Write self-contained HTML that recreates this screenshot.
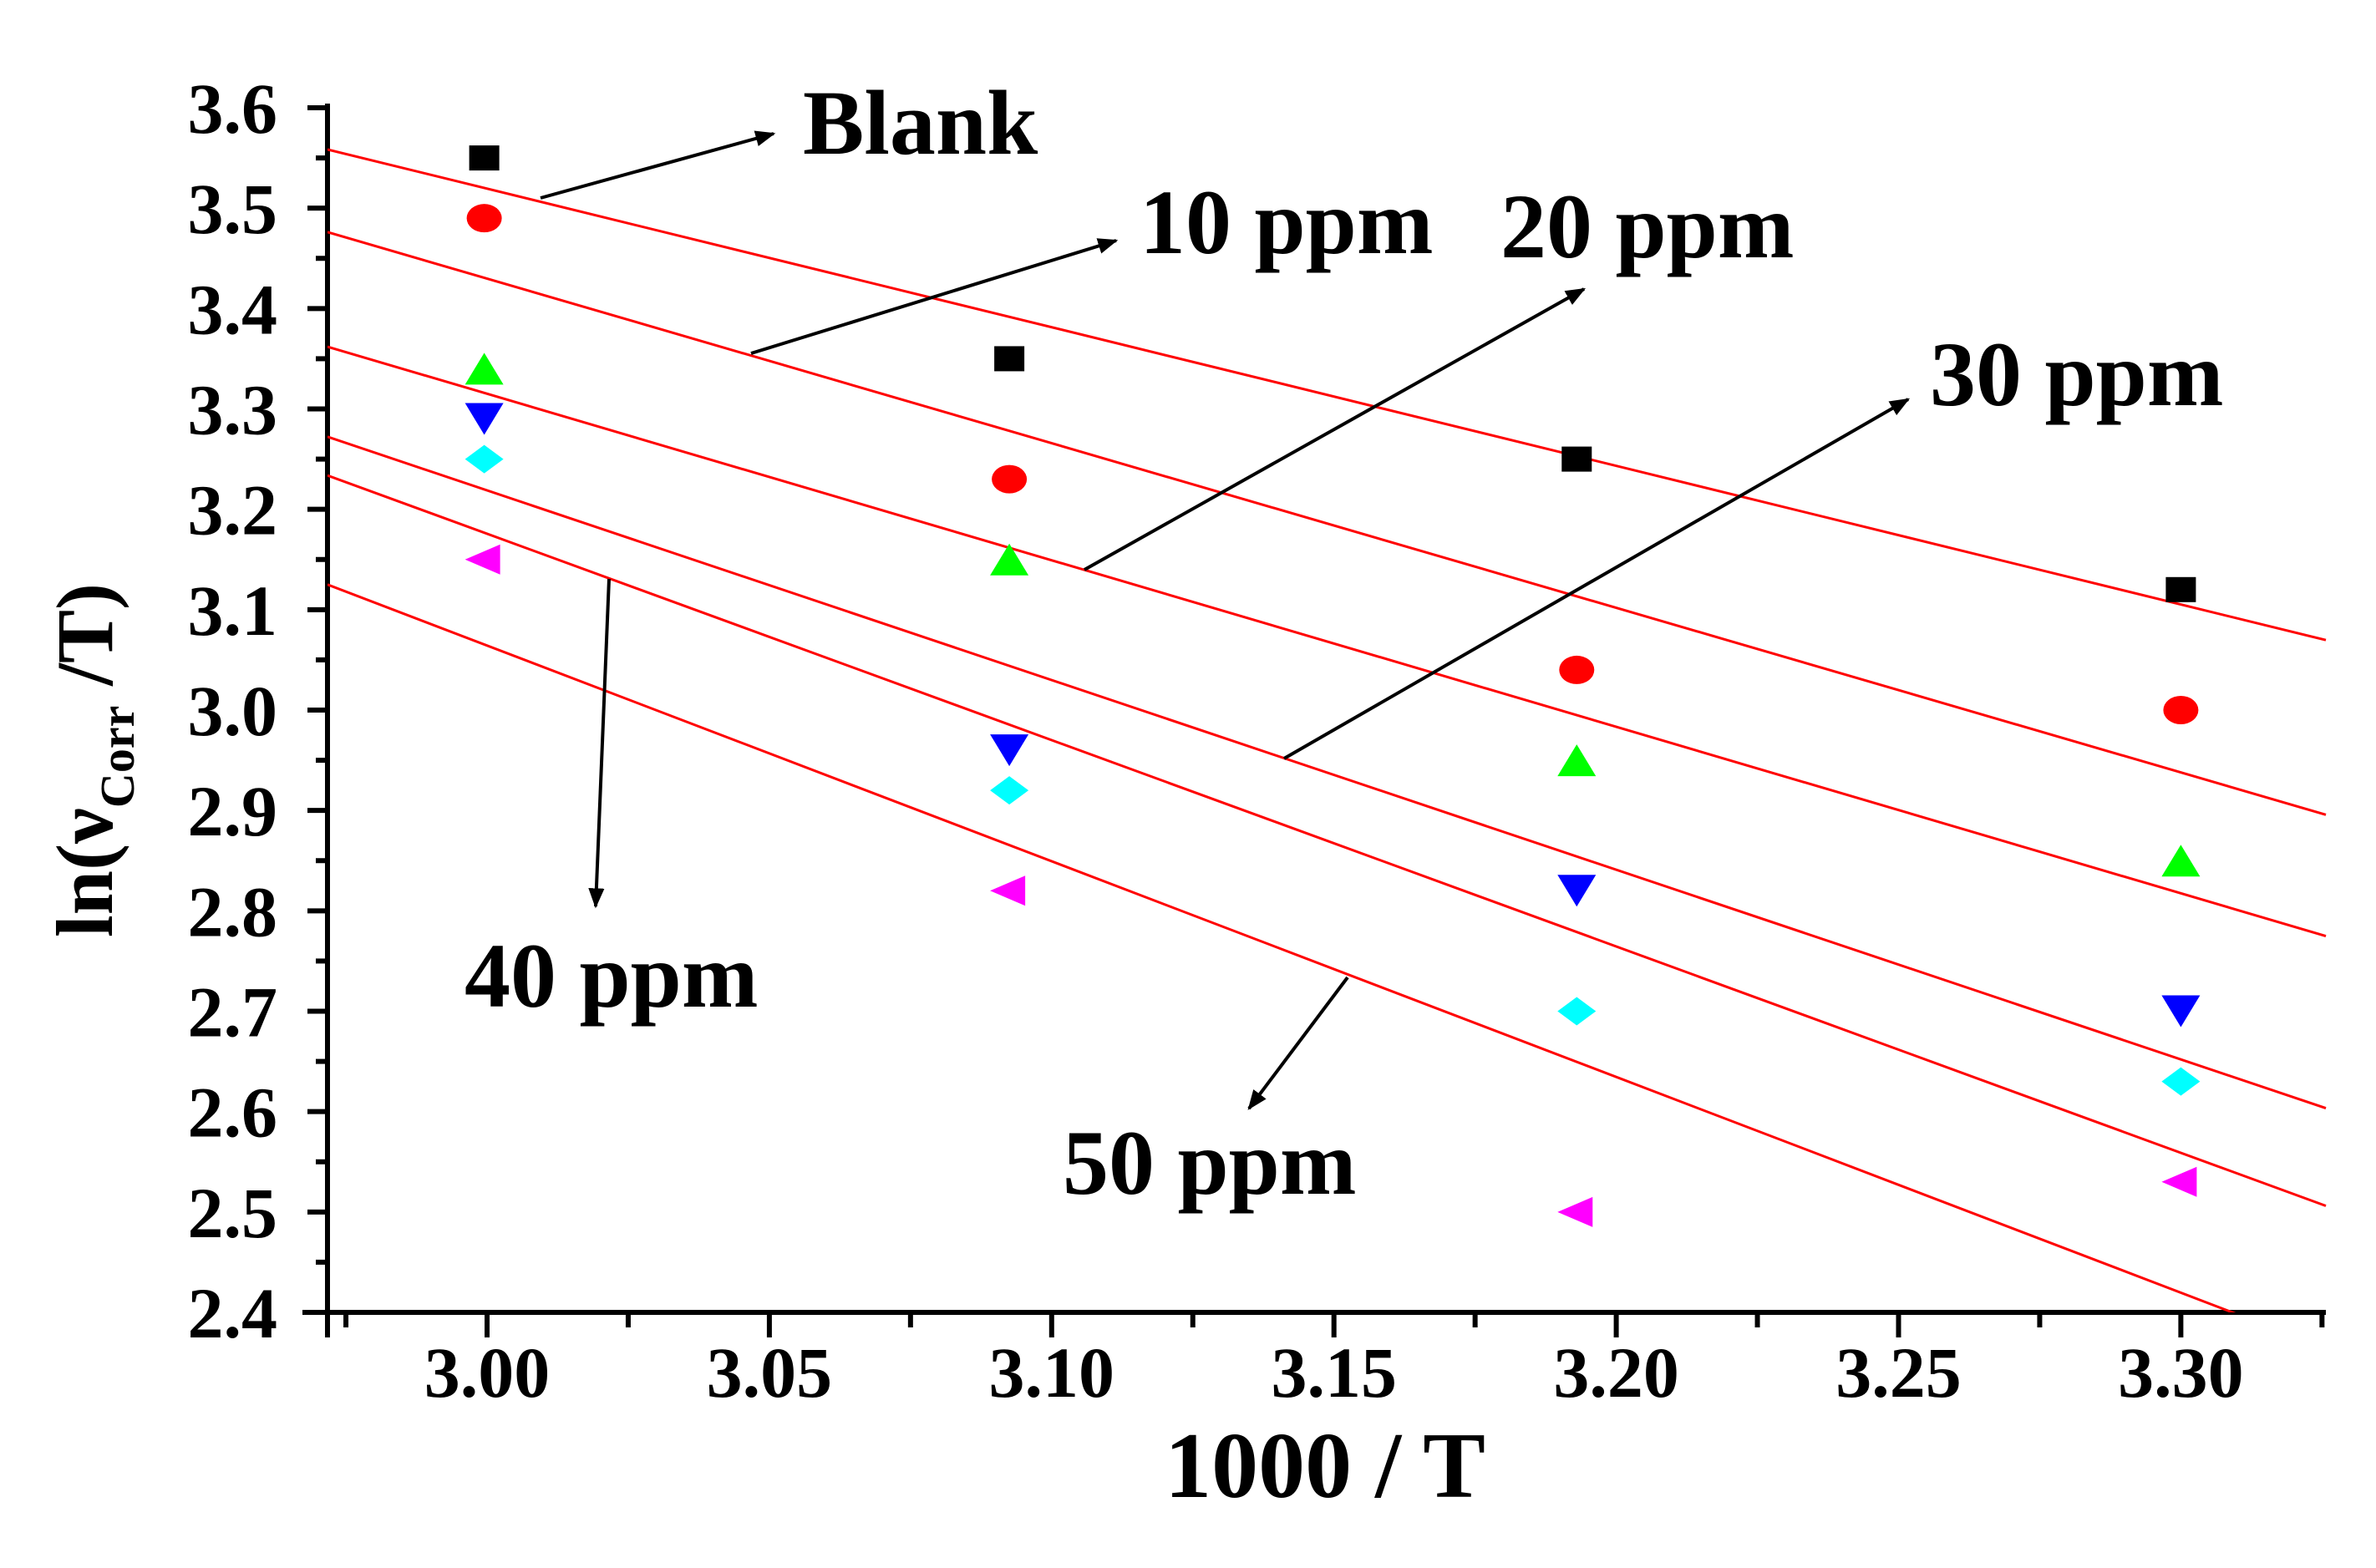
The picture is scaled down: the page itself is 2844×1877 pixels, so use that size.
<!DOCTYPE html>
<html><head><meta charset="utf-8"><style>html,body{margin:0;padding:0;background:#fff;overflow:hidden;width:2844px;height:1877px}svg{display:block}</style></head>
<body>
<svg id="chart" width="2844" height="1877" viewBox="0 0 2844 1877" xmlns="http://www.w3.org/2000/svg" font-family="'Liberation Serif', serif" font-weight="bold">
<defs>
<clipPath id="plotclip"><rect x="392" y="0" width="2400" height="1571"/></clipPath>
<marker id="ah" viewBox="0 0 10 10" refX="9" refY="5" markerWidth="6" markerHeight="6" orient="auto"><path d="M0,1 L10,5 L0,9 Z" fill="#000"/></marker>
</defs>
<g id="axes"></g>
<g id="lines" clip-path="url(#plotclip)"></g>
<g id="points"></g>
<g id="annots"></g>
<text x="1586" y="1792" font-size="112" text-anchor="middle">1000 / T</text>
<text transform="translate(134,910) rotate(-90)" font-size="96" text-anchor="middle">ln(ν<tspan font-size="58" dy="26">Corr</tspan><tspan dy="-26"> /T)</tspan></text>
</svg>
<script>
const xVals = [2.9995, 3.0925, 3.193, 3.300];
const seriesNames = ["Blank","10 ppm","20 ppm","30 ppm","40 ppm","50 ppm"];
const blank = [3.55, 3.35, 3.25, 3.12];
const ppm10 = [3.49, 3.23, 3.04, 3.00];
const ppm20 = [3.34, 3.15, 2.95, 2.85];
const ppm30 = [3.29, 2.96, 2.82, 2.70];
const ppm40 = [3.25, 2.92, 2.70, 2.63];
const ppm50 = [3.15, 2.82, 2.50, 2.53];
const yTicks = ["2.4","2.5","2.6","2.7","2.8","2.9","3.0","3.1","3.2","3.3","3.4","3.5","3.6"];
const xTicks = ["3.00","3.05","3.10","3.15","3.20","3.25","3.30"];

const NS="http://www.w3.org/2000/svg";
const X0=392,X1=2784,Y0=1571,Y1=129;
const PXU=6758;
const xMin=3.00-(583-392)/PXU, xMax=3.00+(2784-583)/PXU;
const yMin=2.4,yMax=3.6;
function sx(v){return 583+(v-3.00)*PXU;}
function sy(v){return Y0-(v-yMin)/(yMax-yMin)*(Y0-Y1);}
function mk(tag,attrs,parent){const e=document.createElementNS(NS,tag);for(const k in attrs)e.setAttribute(k,attrs[k]);parent.appendChild(e);return e;}

const axes=document.getElementById('axes');
let a=mk('line',{x1:X0,y1:Y1-5,x2:X0,y2:Y0+30,stroke:'#000','stroke-width':6},axes);


a=mk('line',{x1:X0-30,y1:Y0,x2:X1,y2:Y0,stroke:'#000','stroke-width':6},axes);


for(let i=0;i<yTicks.length;i++){
  const v=parseFloat(yTicks[i]),y=sy(v);
  mk('line',{x1:X0-24,y1:y,x2:X0,y2:y,stroke:'#000','stroke-width':6},axes);
  if(i<yTicks.length-1){const ym=sy(v+0.05);mk('line',{x1:X0-14,y1:ym,x2:X0,y2:ym,stroke:'#000','stroke-width':6},axes);}
  const t=mk('text',{x:332,y:y+30,'font-size':86,'text-anchor':'end'},axes);
  t.textContent=yTicks[i];
  
  
}
for(let i=0;i<xTicks.length;i++){
  const v=parseFloat(xTicks[i]),x=sx(v);
  mk('line',{x1:x,y1:Y0,x2:x,y2:Y0+30,stroke:'#000','stroke-width':6},axes);
  const t=mk('text',{x:x,y:1672,'font-size':86,'text-anchor':'middle'},axes);
  t.textContent=xTicks[i];
  
  
}
for(let v=2.975;v<3.33;v+=0.05){const x=sx(v);mk('line',{x1:x,y1:Y0,x2:x,y2:Y0+18,stroke:'#000','stroke-width':6},axes);}

const allSeries=[blank,ppm10,ppm20,ppm30,ppm40,ppm50];
const colors=['#000','#ff0000','#00ff00','#0000ff','#00ffff','#ff00ff'];
const shapes=['square','circle','up','down','diamond','left'];
const lines=document.getElementById('lines'),points=document.getElementById('points');
allSeries.forEach((ys,si)=>{
  const n=xVals.length;let mx=0,my=0;for(let i=0;i<n;i++){mx+=xVals[i];my+=ys[i];}mx/=n;my/=n;
  let sxy=0,sxx=0;for(let i=0;i<n;i++){sxy+=(xVals[i]-mx)*(ys[i]-my);sxx+=(xVals[i]-mx)**2;}
  const b=sxy/sxx;
  const l=mk('line',{x1:X0,y1:sy(my+b*(xMin-mx)),x2:X1,y2:sy(my+b*(xMax-mx)),stroke:'#ff0000','stroke-width':3},lines);
  
  
  for(let i=0;i<n;i++){
    const cx=sx(xVals[i]),cy=sy(ys[i]),c=colors[si];let e;
    if(shapes[si]==='square')e=mk('rect',{x:cx-18,y:cy-15,width:36,height:30,fill:c},points);
    else if(shapes[si]==='circle')e=mk('ellipse',{cx:cx,cy:cy,rx:21,ry:17,fill:c},points);
    else if(shapes[si]==='up')e=mk('polygon',{points:`${cx},${cy-19} ${cx-23},${cy+19} ${cx+23},${cy+19}`,fill:c},points);
    else if(shapes[si]==='down')e=mk('polygon',{points:`${cx-23},${cy-19} ${cx+23},${cy-19} ${cx},${cy+19}`,fill:c},points);
    else if(shapes[si]==='diamond')e=mk('polygon',{points:`${cx},${cy-17} ${cx+23},${cy} ${cx},${cy+17} ${cx-23},${cy}`,fill:c},points);
    else e=mk('polygon',{points:`${cx-23},${cy} ${cx+19},${cy-18} ${cx+19},${cy+18}`,fill:c},points);
    
    
  }
});

const ann=document.getElementById('annots');
const labels=[
 ["Blank",961,184,[647,237,926,160]],
 ["10 ppm",1364,303,[899,423,1336,288]],
 ["20 ppm",1796,308,[1298,682,1896,346]],
 ["30 ppm",2310,485,[1537,908,2284,478]],
 ["40 ppm",556,1205,[729,693,713,1085]],
 ["50 ppm",1272,1429,[1613,1170,1495,1327]]
];
labels.forEach(L=>{
  const t=mk('text',{x:L[1],y:L[2],'font-size':110},ann);
  t.textContent=L[0];
  
  
  const p=L[3];
  const ar=mk('line',{x1:p[0],y1:p[1],x2:p[2],y2:p[3],stroke:'#000','stroke-width':4,'marker-end':'url(#ah)'},ann);
  
  
});
</script>
</body></html>
